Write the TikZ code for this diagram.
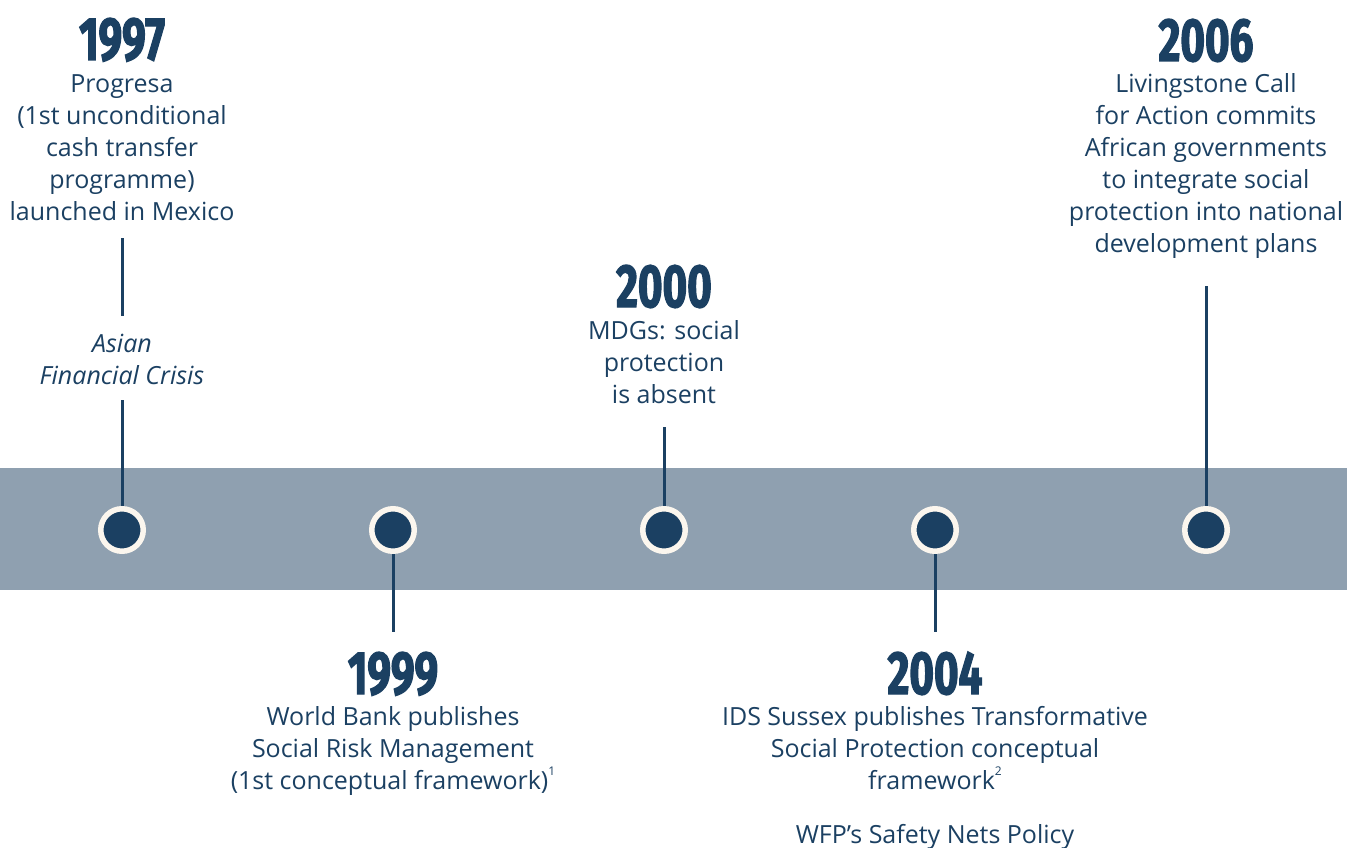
\documentclass[tikz,border=0pt]{standalone}
\usepackage{fontspec}
\setmainfont{Open Sans}
\newfontfamily\yearfont[FakeStretch=0.69, FakeBold=2, UprightFont={* Bold}]{Fira Sans}
\definecolor{navy}{HTML}{1B4062}
\definecolor{bandc}{HTML}{8FA0B0}
\definecolor{cream}{HTML}{FBF6EE}
\newcommand{\supnum}[1]{\raisebox{0.55em}{\fontsize{12}{12}\selectfont #1}}
\tikzset{
  body/.style={font=\fontsize{25}{32}\selectfont, text=navy, align=center, inner sep=0pt, anchor=base},
  ibody/.style={font=\fontsize{25}{32}\selectfont\itshape, text=navy, align=center, inner sep=0pt, anchor=base},
  year/.style={font=\yearfont\fontsize{61}{61}\selectfont, text=navy, inner sep=0pt, anchor=base},
  conn/.style={draw=navy, line width=3pt},
  dot/.style={circle, fill=navy, draw=cream, line width=5.5pt, minimum size=42.5pt, inner sep=0pt}
}
\begin{document}
\begin{tikzpicture}[x=1pt,y=-1pt]
\useasboundingbox (0,0) rectangle (1347,848);
\fill[bandc] (0,468) rectangle (1347,590);

% years and texts (base anchor = last line baseline)
\node[year] (y1) at (122,60) {1997};
\node[body] (t1) at (122,220) {Progresa\\(1st unconditional\\cash transfer\\programme)\\launched in Mexico};
\node[ibody] (t1b) at (122,384) {Asian\\Financial Crisis};

\node[year] (y3) at (664,307) {2000};
\node[body] (t3) at (664,403) {MDGs: social\\protection\\is absent};

\node[year] (y5) at (1206,61) {2006};
\node[body] (t5) at (1206,252) {Livingstone Call\\for Action commits\\African governments\\to integrate social\\protection into national\\development plans};

\node[year] (y2) at (393,694) {1999};
\node[body] (t2) at (393,789) {World Bank publishes\\Social Risk Management\\(1st conceptual framework)\supnum{1}};

\node[year] (y4) at (935,694) {2004};
\node[body] (t4) at (935,789) {IDS Sussex publishes Transformative\\Social Protection conceptual\\framework\supnum{2}};
\node[body] (t4b) at (935,843) {WFP’s Safety Nets Policy};

% connector ends
\coordinate (a1) at (122,238);
\coordinate (b1) at (122,316);
\coordinate (a1b) at (122,400);
\coordinate (a3) at (664,427);
\coordinate (a5) at (1206,286);
\coordinate (a2) at (393,632);
\coordinate (a4) at (935,632);

% circle positions
\coordinate (p1) at (122,530);
\coordinate (p2) at (393,530);
\coordinate (p3) at (664,530);
\coordinate (p4) at (935,530);
\coordinate (p5) at (1206,530);

\draw[conn] (a1) -- (b1);
\draw[conn] (a1b) -- (p1);
\draw[conn] (a3) -- (p3);
\draw[conn] (a5) -- (p5);
\draw[conn] (p2) -- (a2);
\draw[conn] (p4) -- (a4);

\node[dot] (c1) at (p1) {};
\node[dot] (c2) at (p2) {};
\node[dot] (c3) at (p3) {};
\node[dot] (c4) at (p4) {};
\node[dot] (c5) at (p5) {};
\end{tikzpicture}
\end{document}
